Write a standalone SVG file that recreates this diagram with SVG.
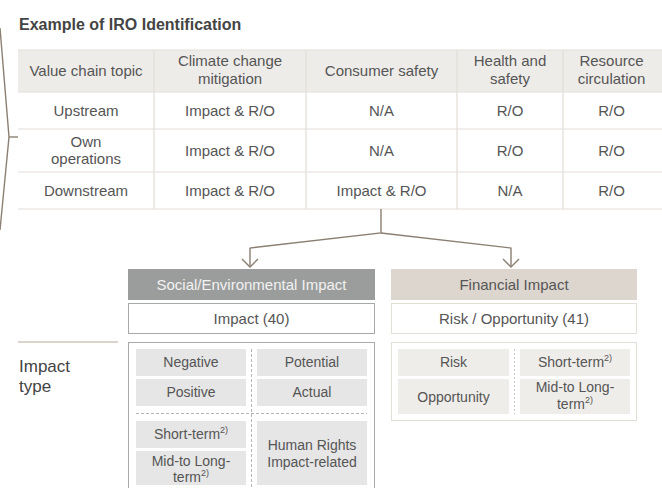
<svg xmlns="http://www.w3.org/2000/svg" width="662" height="488" viewBox="0 0 662 488">
<style>
text{font-family:"Liberation Sans",Arial,sans-serif;fill:#555;font-size:15px;text-anchor:middle}
.title{font-weight:bold;font-size:16px;fill:#444;text-anchor:start}
.cell{font-size:14px}
.grid{stroke:#e3ded7;stroke-width:1.2;fill:none}
.conn{stroke:#8b7f72;stroke-width:1.4;fill:none}
.sup{font-size:9px}
.lc{fill:#e6e6e6}
.rc{fill:#efedea}
.lbl{text-anchor:start;font-size:17px;fill:#444}
</style>
<rect width="662" height="488" fill="#fff"/>
<text class="title" x="19" y="30">Example of IRO Identification</text>

<g id="bracket">
<polyline class="conn" points="0,28 9,137 0,230"/>
<line class="conn" x1="9" y1="137" x2="18" y2="137"/>
</g>

<g id="table">
<rect x="18" y="50" width="644" height="42" fill="#eeece9"/>
<g class="grid">
<line x1="18" y1="50" x2="662" y2="50"/>
<line x1="18" y1="92" x2="662" y2="92"/>
<line x1="18" y1="129" x2="662" y2="129"/>
<line x1="18" y1="172" x2="662" y2="172"/>
<line x1="18" y1="209" x2="662" y2="209"/>
<line x1="154" y1="50" x2="154" y2="209"/>
<line x1="306" y1="50" x2="306" y2="209"/>
<line x1="457" y1="50" x2="457" y2="209"/>
<line x1="563" y1="50" x2="563" y2="209"/>
</g>
<text x="86" y="76">Value chain topic</text>
<text x="230" y="66">Climate change</text>
<text x="230" y="84">mitigation</text>
<text x="381.5" y="76">Consumer safety</text>
<text x="510" y="66">Health and</text>
<text x="510" y="84">safety</text>
<text x="611.5" y="66">Resource</text>
<text x="611.5" y="84">circulation</text>

<text x="86" y="116">Upstream</text>
<text x="230" y="116">Impact &amp; R/O</text>
<text x="381.5" y="116">N/A</text>
<text x="510" y="116">R/O</text>
<text x="611.5" y="116">R/O</text>

<text x="86" y="147">Own</text>
<text x="86" y="164">operations</text>
<text x="230" y="156">Impact &amp; R/O</text>
<text x="381.5" y="156">N/A</text>
<text x="510" y="156">R/O</text>
<text x="611.5" y="156">R/O</text>

<text x="86" y="196">Downstream</text>
<text x="230" y="196">Impact &amp; R/O</text>
<text x="381.5" y="196">Impact &amp; R/O</text>
<text x="510" y="196">N/A</text>
<text x="611.5" y="196">R/O</text>
</g>

<g id="connectors">
<polyline class="conn" points="381,209 381,233 250,248 250,267"/>
<polyline class="conn" points="381,233 511,248 511,267"/>
<polyline class="conn" points="242,259 250,267 258,259"/>
<polyline class="conn" points="503,259 511,267 519,259"/>
</g>

<g id="social-impact">
<rect x="128" y="269" width="247" height="31" fill="#9b9d9c"/>
<text x="251.5" y="290" style="fill:#f2f2f2">Social/Environmental Impact</text>
</g>
<g id="impact-40">
<rect x="128.5" y="303.5" width="246" height="30" fill="#fff" stroke="#a8a8a8"/>
<text x="251.5" y="324">Impact (40)</text>
</g>
<g id="financial-impact">
<rect x="391" y="269" width="246" height="31" fill="#ddd6cf"/>
<text x="514" y="290">Financial Impact</text>
</g>
<g id="risk-opportunity-41">
<rect x="391.5" y="303.5" width="245" height="30" fill="#fff" stroke="#e3ded7"/>
<text x="514" y="324">Risk / Opportunity (41)</text>
</g>

<g id="impact-type-label">
<line x1="18" y1="342" x2="118" y2="342" stroke="#cfc6b9" stroke-width="1.5"/>
<text class="lbl" x="19" y="372">Impact</text>
<text class="lbl" x="19" y="392">type</text>
</g>

<g id="impact-types">
<rect x="128.5" y="342.5" width="246" height="160" fill="#fff" stroke="#aaa"/>
<rect class="lc" x="136" y="349" width="110" height="27"/>
<rect class="lc" x="136" y="379" width="110" height="27"/>
<rect class="lc" x="257" y="349" width="110" height="27"/>
<rect class="lc" x="257" y="379" width="110" height="27"/>
<rect class="lc" x="136" y="421" width="110" height="27"/>
<rect class="lc" x="136" y="451" width="110" height="34"/>
<rect class="lc" x="257" y="421" width="110" height="64"/>
<line x1="251.5" y1="349" x2="251.5" y2="488" stroke="#b5b5b5" stroke-dasharray="3,2"/>
<line x1="136" y1="413.5" x2="367" y2="413.5" stroke="#b5b5b5" stroke-dasharray="3,2"/>
<text class="cell" x="191" y="367">Negative</text>
<text class="cell" x="312" y="367">Potential</text>
<text class="cell" x="191" y="397">Positive</text>
<text class="cell" x="312" y="397">Actual</text>
<text class="cell" x="191" y="439">Short-term<tspan class="sup" dy="-6">2)</tspan></text>
<text class="cell" x="191" y="465.5">Mid-to Long-</text>
<text class="cell" x="191" y="482">term<tspan class="sup" dy="-6">2)</tspan></text>
<text class="cell" x="312" y="450">Human Rights</text>
<text class="cell" x="312" y="467">Impact-related</text>
</g>

<g id="financial-types">
<rect x="391.5" y="342.5" width="245" height="78" fill="#fff" stroke="#e3ded7"/>
<rect class="rc" x="398" y="349" width="111" height="27"/>
<rect class="rc" x="398" y="379" width="111" height="35"/>
<rect class="rc" x="520" y="349" width="110" height="27"/>
<rect class="rc" x="520" y="379" width="110" height="35"/>
<line x1="514.5" y1="349" x2="514.5" y2="414" stroke="#c8c8c8" stroke-dasharray="2,2"/>
<text class="cell" x="453.5" y="367">Risk</text>
<text class="cell" x="453.5" y="401.5">Opportunity</text>
<text class="cell" x="575" y="367">Short-term<tspan class="sup" dy="-6">2)</tspan></text>
<text class="cell" x="575" y="392">Mid-to Long-</text>
<text class="cell" x="575" y="409">term<tspan class="sup" dy="-6">2)</tspan></text>
</g>
</svg>
